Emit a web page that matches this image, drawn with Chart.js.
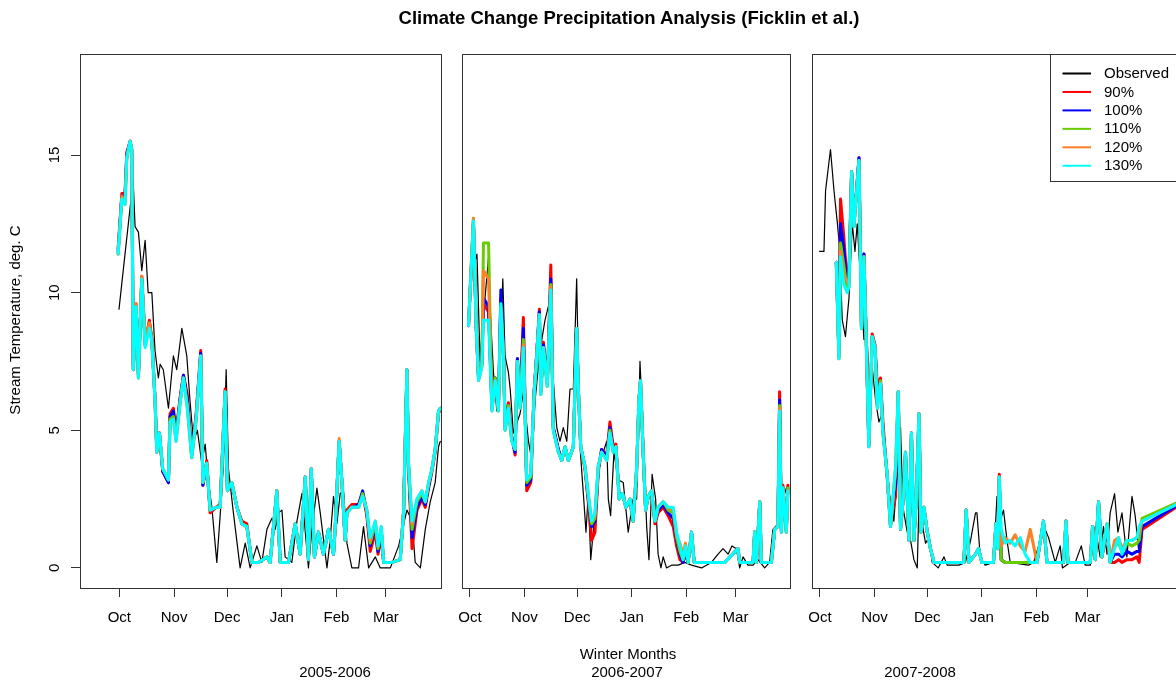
<!DOCTYPE html>
<html lang="en">
<head>
<meta charset="UTF-8">
<title>Climate Change Precipitation Analysis (Ficklin et al.)</title>
<script src="https://cdn.jsdelivr.net/npm/chart.js@4"></script>
<style>
    html, body { margin: 0; padding: 0; background: #fff; }
    body { width: 1176px; height: 681px; overflow: hidden; position: relative;
           font-family: 'Liberation Sans', Arial, sans-serif; color: #000; }
    canvas { position: absolute; top: 0; }
    .lbl { position: absolute; transform: translate(-50%, -50%); white-space: nowrap; font-size: 15px; font-weight: normal; }
    .title { font-weight: bold; font-size: 18.5px; }
</style>
</head>
<body>
<canvas id="p1" width="460" height="681" style="left:0px"></canvas>
<canvas id="p2" width="400" height="681" style="left:420px"></canvas>
<canvas id="p3" width="460" height="681" style="left:770px"></canvas>

<div class="lbl title" style="left:629px;top:18px">Climate Change Precipitation Analysis (Ficklin et al.)</div>
<div class="lbl" style="left:628px;top:653px">Winter Months</div>
<div class="lbl" style="left:335px;top:671px">2005-2006</div>
<div class="lbl" style="left:627px;top:671px">2006-2007</div>
<div class="lbl" style="left:920px;top:671px">2007-2008</div>

<script>
// x values are days since Oct 1 of each winter
const monthNames = ['Oct', 'Nov', 'Dec', 'Jan', 'Feb', 'Mar'];
const monthDays = [0, 31, 61, 92, 123, 151];
const monthDaysLeap = [0, 31, 61, 92, 123, 152];
const seriesNames = ['Observed', '90%', '100%', '110%', '120%', '130%'];
const seriesColors = ['#000000', '#FF0000', '#0000FF', '#66CD00', '#FF7F24', '#00FFFF'];
const yTitle = 'Stream Temperature, deg. C';

// ---- 2005-2006 ----
const p1ObsDays = [-0.2, 7.8, 8.9, 10.8, 12.7, 14.6, 16.3, 18.4, 20.2, 22.1,
    23.1, 24.9, 27.8, 30.6, 32.5, 35.4, 38.2, 40.1, 42.0, 44.2,
    46.7, 48.6, 50.5, 52.4, 55.2, 57.1, 59.0, 60.5, 61.8, 64.6,
    68.4, 71.3, 74.1, 77.9, 80.7, 83.6, 86.4, 88.3, 90.1, 92.1,
    93.9, 97.7, 100.6, 103.4, 107.1, 109.1, 111.9, 113.8, 117.6, 119.4,
    121.3, 123.2, 125.1, 127.0, 128.9, 131.7, 135.5, 138.3, 141.2, 145.0,
    147.8, 153.5, 158.2, 162.9, 165.8, 167.6, 170.5, 173.3, 176.1, 178.9,
    180.8, 181.8];
const p1Obs = [9.4, 14.1, 12.4, 12.2, 10.8, 11.9, 10.0, 10.0, 7.9, 6.9,
    7.4, 7.2, 5.8, 7.7, 7.2, 8.7, 7.7, 6.0, 4.6, 5.0,
    3.8, 4.5, 3.1, 2.2, 0.2, 1.9, 3.8, 7.2, 3.6, 2.0,
    0.0, 0.9, 0.0, 0.8, 0.2, 1.4, 1.8, 1.4, 2.0, 2.1,
    0.4, 0.2, 1.7, 2.7, 0.0, 1.4, 2.9, 2.0, 0.0, 1.0,
    2.6, 1.6, 2.7, 2.8, 0.9, 0.0, 0.0, 1.5, 0.0, 0.4,
    0.0, 0.0, 0.8, 2.1, 1.7, 0.2, 0.0, 1.4, 2.4, 3.1,
    4.4, 4.6];
const p1Days = [-0.7, 1.4, 3.2, 4.2, 6.1, 7.0, 7.9, 9.5, 10.8, 12.7,
    14.6, 17.0, 18.4, 20.2, 21.2, 22.7, 24.6, 27.8, 28.7, 30.6,
    32.1, 34.4, 36.3, 38.5, 41.0, 43.5, 46.1, 47.3, 49.5, 51.4,
    54.8, 57.1, 59.9, 61.2, 63.7, 66.6, 69.4, 72.2, 75.1, 78.8,
    83.6, 85.4, 89.2, 91.1, 95.8, 99.6, 102.4, 105.3, 107.1, 108.7,
    110.5, 112.8, 115.6, 118.5, 121.3, 122.3, 124.5, 126.1, 127.9, 128.9,
    131.7, 135.5, 137.8, 140.2, 142.1, 145.0, 146.5, 148.4, 149.7, 154.4,
    159.1, 161.0, 162.9, 163.8, 165.8, 168.6, 171.4, 173.3, 175.2, 177.1,
    178.9, 180.8, 181.8];
const p1P90 = [11.6, 13.6, 13.6, 15.1, 15.5, 15.2, 7.3, 9.6, 7.0, 10.6,
    8.2, 9.0, 8.3, 6.2, 4.3, 4.9, 3.5, 3.1, 5.6, 5.8,
    4.9, 6.2, 7.0, 6.3, 4.1, 5.6, 7.9, 3.0, 3.9, 2.0,
    2.2, 2.3, 6.5, 2.9, 3.1, 2.2, 1.7, 1.6, 0.2, 0.2,
    0.4, 0.2, 2.8, 0.2, 0.2, 1.6, 0.5, 3.3, 0.3, 3.6,
    0.4, 1.3, 0.5, 1.4, 0.5, 1.5, 4.6, 3.1, 1.0, 2.1,
    2.3, 2.3, 2.7, 1.9, 0.6, 1.3, 0.5, 1.1, 0.2, 0.2,
    0.3, 2.1, 7.2, 3.6, 0.7, 2.1, 2.5, 2.2, 2.9, 3.5,
    4.2, 5.6, 5.8];
const p1P100 = [11.5, 13.5, 13.5, 15.0, 15.5, 15.2, 7.2, 9.5, 7.0, 10.5,
    8.1, 8.9, 8.3, 6.1, 4.2, 4.9, 3.5, 3.1, 5.5, 5.7,
    4.8, 6.1, 7.0, 6.1, 4.1, 5.5, 7.8, 3.0, 3.8, 2.1,
    2.2, 2.2, 6.4, 2.8, 3.1, 2.2, 1.6, 1.5, 0.2, 0.2,
    0.4, 0.2, 2.8, 0.2, 0.2, 1.6, 0.5, 3.3, 0.3, 3.6,
    0.4, 1.3, 0.5, 1.4, 0.5, 1.5, 4.6, 3.1, 1.0, 2.0,
    2.2, 2.3, 2.8, 2.0, 0.8, 1.5, 0.6, 1.3, 0.2, 0.2,
    0.3, 2.0, 7.2, 3.7, 1.1, 2.2, 2.6, 2.3, 3.0, 3.6,
    4.3, 5.7, 5.8];
const p1P110 = [11.4, 13.4, 13.3, 14.9, 15.5, 15.2, 7.2, 9.5, 6.9, 10.5,
    8.1, 8.9, 8.2, 6.1, 4.2, 4.9, 3.6, 3.2, 5.4, 5.5,
    4.7, 6.0, 6.9, 5.9, 4.0, 5.4, 7.7, 3.1, 3.8, 2.1,
    2.2, 2.2, 6.4, 2.8, 3.1, 2.2, 1.6, 1.5, 0.2, 0.2,
    0.4, 0.2, 2.8, 0.2, 0.2, 1.6, 0.5, 3.3, 0.3, 3.6,
    0.4, 1.3, 0.5, 1.4, 0.5, 1.5, 4.6, 3.1, 1.0, 2.0,
    2.2, 2.2, 2.7, 2.1, 0.9, 1.6, 0.7, 1.4, 0.2, 0.2,
    0.3, 2.0, 7.2, 3.8, 1.4, 2.4, 2.7, 2.4, 3.1, 3.6,
    4.3, 5.7, 5.8];
const p1P120 = [11.4, 13.5, 13.2, 14.9, 15.5, 15.2, 7.2, 9.6, 6.9, 10.6,
    8.3, 8.9, 8.3, 6.1, 4.2, 4.9, 3.6, 3.2, 5.3, 5.4,
    4.6, 6.0, 6.9, 5.8, 4.0, 5.4, 7.7, 3.1, 3.8, 2.1,
    2.2, 2.2, 6.4, 2.8, 3.1, 2.2, 1.6, 1.5, 0.2, 0.2,
    0.4, 0.2, 2.8, 0.2, 0.2, 1.6, 0.5, 3.3, 0.3, 3.6,
    0.4, 1.3, 0.5, 1.4, 0.5, 1.5, 4.7, 3.1, 1.0, 2.0,
    2.2, 2.2, 2.6, 2.1, 1.0, 1.7, 0.8, 1.5, 0.2, 0.2,
    0.3, 2.0, 7.2, 3.8, 1.6, 2.5, 2.8, 2.4, 3.1, 3.6,
    4.3, 5.7, 5.8];
const p1P130 = [11.4, 13.4, 13.2, 14.9, 15.5, 15.2, 7.2, 9.5, 6.9, 10.5,
    8.0, 8.7, 8.2, 6.1, 4.2, 4.9, 3.6, 3.2, 5.3, 5.4,
    4.6, 6.0, 6.9, 5.8, 4.0, 5.4, 7.7, 3.1, 3.8, 2.1,
    2.2, 2.2, 6.4, 2.8, 3.1, 2.2, 1.6, 1.5, 0.2, 0.2,
    0.4, 0.2, 2.8, 0.2, 0.2, 1.6, 0.5, 3.3, 0.3, 3.6,
    0.4, 1.3, 0.5, 1.4, 0.5, 1.5, 4.6, 3.1, 1.0, 2.0,
    2.2, 2.2, 2.6, 2.1, 1.1, 1.7, 0.8, 1.5, 0.2, 0.2,
    0.3, 2.0, 7.2, 3.8, 1.7, 2.5, 2.8, 2.4, 3.1, 3.6,
    4.3, 5.7, 5.8];

// ---- 2006-2007 ----
const p2ObsDays = [0.2, 4.0, 5.8, 7.5, 10.6, 11.9, 13.4, 15.3, 16.2, 18.7,
    20.0, 21.9, 22.9, 24.7, 28.5, 30.4, 33.3, 35.2, 37.1, 38.9,
    40.9, 42.7, 44.6, 47.4, 49.4, 51.2, 53.1, 55.1, 56.9, 58.8,
    60.7, 61.6, 62.6, 64.5, 66.0, 67.3, 68.7, 70.1, 72.1, 73.9,
    75.8, 77.8, 78.7, 80.0, 81.9, 84.3, 87.2, 90.0, 92.8, 94.8,
    96.7, 98.5, 100.5, 101.8, 103.6, 105.6, 107.0, 108.6, 109.9, 111.8,
    114.6, 118.4, 122.2, 126.0, 131.7, 137.3, 141.1, 143.9, 146.8, 149.0,
    151.5, 153.4, 155.3, 158.1, 161.0, 163.8, 167.6, 170.4, 172.3, 175.1,
    177.1, 179.0, 180.8];
const p2Obs = [10.5, 11.4, 7.5, 9.0, 11.3, 8.9, 7.1, 5.7, 6.1, 10.5,
    7.7, 7.1, 6.5, 4.9, 5.6, 6.4, 4.6, 3.9, 6.1, 7.3,
    8.3, 9.0, 9.5, 6.8, 5.1, 4.6, 5.1, 4.6, 6.5, 6.5,
    10.5, 7.5, 4.4, 2.7, 1.3, 2.7, 0.3, 1.3, 3.2, 3.9,
    4.2, 4.6, 2.5, 1.9, 4.2, 3.2, 3.1, 1.3, 2.5, 2.5,
    7.5, 4.9, 1.5, 0.3, 3.4, 2.5, 0.5, 0.0, 0.4, 0.0,
    0.1, 0.1, 0.2, 0.1, 0.0, 0.2, 0.5, 0.7, 0.5, 0.8,
    0.7, 0.0, 0.4, 0.1, 0.1, 0.3, 0.0, 0.2, 1.4, 1.6,
    2.8, 2.9, 2.5];
const p2Days = [-0.8, 2.0, 3.6, 4.9, 6.8, 7.7, 10.6, 12.5, 14.4, 16.2,
    17.6, 19.1, 20.0, 21.9, 23.8, 25.7, 27.0, 28.5, 30.4, 32.3,
    34.6, 36.5, 38.0, 39.5, 40.3, 41.8, 44.0, 46.0, 47.4, 50.3,
    52.2, 54.1, 56.0, 58.8, 60.7, 61.6, 63.0, 65.4, 67.3, 69.2,
    71.1, 73.0, 74.9, 77.8, 79.6, 81.5, 83.0, 84.9, 86.8, 88.7,
    91.0, 92.8, 94.8, 96.1, 97.0, 98.5, 99.9, 101.4, 103.3, 105.2,
    107.0, 109.9, 112.7, 115.6, 117.5, 119.4, 121.2, 122.6, 124.1, 126.0,
    127.5, 135.4, 144.9, 152.4, 153.4, 161.0, 161.9, 162.9, 164.8, 165.7,
    171.4, 173.3, 175.1, 176.1, 177.1, 178.0, 179.9, 180.8];
const p2P90 = [8.8, 12.5, 8.7, 6.9, 7.4, 9.6, 9.3, 5.9, 6.9, 5.8,
    9.8, 7.8, 5.2, 6.0, 4.8, 4.1, 7.6, 6.0, 9.1, 2.8,
    3.1, 6.4, 7.8, 9.4, 6.4, 8.2, 6.7, 11.0, 5.1, 4.3,
    3.9, 4.4, 3.9, 4.4, 8.7, 6.6, 4.4, 3.6, 2.4, 1.0,
    1.3, 3.5, 4.3, 4.1, 5.3, 4.4, 4.5, 2.6, 2.7, 2.2,
    2.4, 1.7, 3.5, 6.1, 6.8, 4.2, 2.1, 2.6, 2.7, 1.6,
    2.0, 2.2, 1.9, 1.5, 0.8, 0.3, 0.2, 0.5, 0.2, 1.3,
    0.2, 0.2, 0.2, 0.7, 0.2, 0.2, 1.3, 0.2, 2.4, 0.2,
    0.2, 1.4, 1.5, 6.4, 1.4, 3.0, 1.4, 3.0];
const p2P100 = [8.8, 12.6, 8.7, 6.9, 7.4, 9.8, 9.5, 5.8, 6.9, 5.8,
    10.1, 7.8, 5.1, 5.9, 4.7, 4.2, 7.6, 5.9, 8.7, 3.0,
    3.2, 6.4, 7.8, 9.3, 6.4, 8.1, 6.7, 10.5, 5.1, 4.3,
    3.9, 4.4, 3.9, 4.4, 8.7, 6.6, 4.4, 3.7, 2.5, 1.5,
    1.7, 3.6, 4.3, 4.0, 5.1, 4.3, 4.4, 2.5, 2.7, 2.2,
    2.5, 1.7, 3.6, 6.1, 6.8, 4.2, 2.1, 2.6, 2.8, 1.7,
    2.1, 2.3, 2.0, 1.8, 1.0, 0.5, 0.2, 0.6, 0.2, 1.3,
    0.2, 0.2, 0.2, 0.7, 0.2, 0.2, 1.3, 0.2, 2.4, 0.2,
    0.2, 1.4, 1.5, 6.1, 1.3, 2.9, 1.3, 2.9];
const p2P110 = [8.8, 12.7, 8.8, 6.9, 7.4, 11.8, 11.8, 5.8, 6.9, 5.7,
    9.5, 7.8, 5.0, 5.9, 4.6, 4.3, 7.5, 5.9, 8.3, 3.1,
    3.3, 6.3, 7.7, 9.2, 6.3, 8.0, 6.6, 10.3, 5.0, 4.2,
    3.9, 4.4, 3.9, 4.4, 8.7, 6.6, 4.4, 3.7, 2.6, 1.6,
    1.8, 3.7, 4.2, 3.9, 5.0, 4.2, 4.4, 2.5, 2.7, 2.2,
    2.5, 1.7, 3.6, 6.1, 6.8, 4.2, 2.1, 2.6, 2.8, 1.7,
    2.2, 2.4, 2.1, 2.0, 1.1, 0.6, 0.3, 0.7, 0.2, 1.3,
    0.2, 0.2, 0.2, 0.7, 0.2, 0.2, 1.3, 0.2, 2.4, 0.2,
    0.2, 1.4, 1.5, 5.9, 1.3, 2.9, 1.3, 2.9];
const p2P120 = [8.8, 12.7, 8.7, 6.8, 7.3, 10.8, 10.5, 5.7, 6.8, 5.7,
    9.4, 7.7, 5.0, 5.8, 4.6, 4.3, 7.5, 5.8, 8.1, 3.2,
    3.4, 6.3, 7.7, 9.2, 6.3, 8.0, 6.6, 10.2, 5.0, 4.2,
    3.9, 4.4, 3.9, 4.4, 8.7, 6.6, 4.4, 3.7, 2.7, 1.7,
    1.9, 3.7, 4.2, 3.9, 4.9, 4.2, 4.4, 2.5, 2.7, 2.2,
    2.5, 1.7, 3.6, 6.1, 6.8, 4.2, 2.1, 2.6, 2.8, 1.7,
    2.2, 2.4, 2.2, 2.1, 1.2, 0.9, 0.5, 0.9, 0.3, 1.3,
    0.2, 0.2, 0.2, 0.7, 0.2, 0.2, 1.3, 0.2, 2.4, 0.2,
    0.2, 1.4, 1.5, 5.8, 1.3, 2.9, 1.3, 2.8];
const p2P130 = [8.8, 12.6, 8.7, 6.8, 7.3, 9.0, 9.0, 5.7, 6.8, 5.7,
    9.6, 7.7, 5.0, 5.8, 4.6, 4.3, 7.5, 5.8, 8.0, 3.2,
    3.4, 6.3, 7.7, 9.2, 6.3, 8.0, 6.6, 10.1, 5.0, 4.2,
    3.9, 4.4, 3.9, 4.4, 8.7, 6.6, 4.4, 3.7, 2.7, 1.7,
    2.0, 3.7, 4.2, 3.9, 4.9, 4.2, 4.4, 2.5, 2.7, 2.2,
    2.5, 1.7, 3.6, 6.1, 6.8, 4.2, 2.1, 2.6, 2.8, 1.7,
    2.2, 2.4, 2.2, 2.2, 1.3, 0.8, 0.3, 0.8, 0.2, 1.3,
    0.2, 0.2, 0.2, 0.7, 0.2, 0.2, 1.3, 0.2, 2.4, 0.2,
    0.2, 1.4, 1.5, 5.7, 1.3, 2.9, 1.3, 2.8];

// ---- 2007-2008 ----
const p3ObsDays = [-0.2, 2.3, 3.2, 6.0, 8.0, 9.8, 11.1, 12.7, 14.5, 16.5,
    18.4, 19.9, 21.2, 25.0, 26.9, 27.8, 29.7, 31.6, 33.5, 35.4,
    37.3, 39.5, 42.0, 43.9, 45.8, 47.2, 49.6, 51.5, 53.4, 55.3,
    56.6, 58.1, 60.0, 61.9, 63.8, 67.2, 70.5, 72.3, 79.0, 82.7,
    85.6, 88.4, 89.2, 91.1, 93.9, 98.6, 100.6, 102.4, 104.3, 106.3,
    108.1, 118.5, 121.4, 125.2, 128.0, 129.9, 133.7, 136.5, 137.8, 142.2,
    145.1, 148.5, 150.7, 153.6, 156.4, 159.2, 161.1, 163.1, 164.9, 167.4,
    169.3, 171.6, 174.4, 177.3, 179.1, 181.0];
const p3Obs = [11.5, 11.5, 13.7, 15.2, 13.7, 12.6, 11.7, 9.0, 8.4, 9.8,
    12.5, 11.5, 12.5, 8.3, 8.3, 6.8, 7.3, 6.1, 5.3, 5.6,
    4.2, 2.7, 1.7, 3.4, 5.1, 2.2, 1.3, 1.0, 0.3, 0.0,
    3.2, 1.6, 0.9, 1.1, 0.2, 0.0, 0.4, 0.1, 0.1, 0.2,
    1.0, 2.0, 2.0, 0.4, 0.1, 0.2, 2.6, 1.7, 2.1, 1.0,
    0.2, 0.1, 0.2, 1.0, 1.4, 1.1, 0.2, 0.8, 0.0, 0.2,
    0.2, 0.8, 0.1, 0.1, 1.5, 0.4, 1.5, 0.5, 2.0, 2.7,
    1.3, 2.0, 0.4, 2.6, 1.9, 0.7];
const p3Days = [9.3, 10.8, 11.7, 13.6, 15.5, 16.5, 18.0, 19.3, 22.2, 23.6,
    25.0, 26.3, 27.8, 29.7, 31.3, 32.6, 34.4, 35.8, 38.2, 40.1,
    41.1, 43.0, 44.5, 45.8, 47.7, 48.6, 50.6, 52.0, 53.4, 54.7,
    56.3, 57.4, 59.1, 61.0, 62.8, 64.8, 81.8, 83.1, 84.7, 88.4,
    90.1, 92.0, 98.6, 100.0, 101.1, 101.9, 103.0, 105.3, 108.1, 110.9,
    113.8, 116.6, 119.5, 123.3, 127.0, 129.0, 138.4, 139.8, 140.9, 153.6,
    154.9, 156.4, 158.3, 160.2, 163.1, 164.9, 167.4, 169.7, 171.6, 174.4,
    177.3, 180.1, 181.4, 183.0, 202.4];
const p3P90 = [11.1, 7.8, 13.4, 12.0, 10.3, 10.8, 14.4, 12.5, 14.9, 8.8,
    11.4, 8.4, 4.5, 8.5, 8.1, 6.6, 6.9, 5.3, 3.3, 1.6,
    2.0, 2.6, 6.4, 1.4, 2.8, 4.2, 1.0, 4.9, 1.0, 2.5,
    5.6, 1.3, 2.2, 1.3, 0.7, 0.2, 0.2, 2.1, 0.2, 0.5,
    0.7, 0.2, 0.2, 1.6, 0.7, 3.4, 0.3, 0.2, 0.2, 0.2,
    0.2, 0.2, 0.2, 0.2, 1.7, 0.2, 0.2, 1.7, 0.2, 0.2,
    1.5, 0.3, 2.4, 0.4, 1.4, 0.2, 0.2, 0.3, 0.2, 0.3,
    0.3, 0.4, 0.2, 1.4, 2.2];
const p3P100 = [11.1, 7.7, 12.5, 11.6, 10.2, 10.4, 14.4, 12.4, 14.9, 8.7,
    11.4, 8.3, 4.4, 8.4, 8.0, 6.2, 6.8, 5.0, 3.4, 1.5,
    2.2, 3.0, 6.4, 1.4, 2.8, 4.2, 1.0, 4.9, 1.0, 2.5,
    5.6, 1.3, 2.2, 1.3, 0.7, 0.2, 0.2, 2.1, 0.2, 0.5,
    0.7, 0.2, 0.2, 1.6, 0.7, 3.3, 0.3, 0.2, 0.2, 0.2,
    0.2, 0.2, 0.2, 0.2, 1.7, 0.2, 0.2, 1.7, 0.2, 0.2,
    1.5, 0.3, 2.4, 0.4, 1.5, 0.2, 0.5, 0.5, 0.4, 0.6,
    0.5, 0.6, 0.6, 1.5, 2.25];
const p3P110 = [11.1, 7.6, 11.8, 11.0, 10.1, 10.2, 14.4, 12.4, 14.8, 8.7,
    11.3, 8.3, 4.4, 8.4, 8.0, 6.0, 6.8, 4.9, 3.4, 1.5,
    2.2, 3.5, 6.4, 1.4, 2.8, 4.2, 1.0, 4.9, 1.0, 2.5,
    5.6, 1.3, 2.2, 1.3, 0.7, 0.2, 0.2, 2.1, 0.2, 0.5,
    0.7, 0.2, 0.2, 1.6, 0.7, 3.3, 0.3, 0.2, 0.2, 0.2,
    0.2, 0.2, 0.2, 0.2, 1.7, 0.2, 0.2, 1.7, 0.2, 0.2,
    1.5, 0.3, 2.4, 0.4, 1.6, 0.2, 0.8, 0.9, 0.6, 0.9,
    0.8, 0.9, 1.0, 1.8, 2.35];
const p3P120 = [11.1, 7.6, 11.5, 10.6, 10.4, 10.3, 14.4, 12.4, 14.8, 8.7,
    11.3, 8.3, 4.4, 8.4, 8.0, 5.8, 6.7, 4.9, 3.4, 1.5,
    2.2, 3.7, 6.4, 1.4, 2.8, 4.2, 1.0, 4.9, 1.0, 2.5,
    5.6, 1.3, 2.2, 1.3, 0.7, 0.2, 0.2, 2.1, 0.2, 0.5,
    0.7, 0.2, 0.2, 1.6, 0.7, 3.3, 0.8, 1.1, 0.9, 1.2,
    0.8, 0.6, 1.4, 0.2, 1.7, 0.2, 0.2, 1.7, 0.2, 0.2,
    1.5, 0.3, 2.4, 0.4, 1.6, 0.2, 1.0, 1.1, 0.7, 1.0,
    1.0, 1.1, 1.3, 1.7, 2.3];
const p3P130 = [11.1, 7.6, 11.3, 10.3, 10.0, 10.2, 14.4, 12.4, 14.8, 8.7,
    11.3, 8.3, 4.4, 8.4, 8.0, 5.8, 6.7, 4.9, 3.4, 1.5,
    2.2, 3.7, 6.4, 1.4, 2.8, 4.2, 1.0, 4.9, 1.0, 2.5,
    5.6, 1.3, 2.2, 1.3, 0.7, 0.2, 0.2, 2.1, 0.2, 0.5,
    0.7, 0.2, 0.2, 1.6, 0.7, 3.3, 1.4, 0.9, 1.0, 0.8,
    1.1, 0.5, 0.2, 0.2, 1.7, 0.2, 0.2, 1.7, 0.2, 0.2,
    1.5, 0.3, 2.4, 0.4, 1.6, 0.2, 0.7, 1.1, 0.5, 1.0,
    1.0, 1.1, 1.5, 1.7, 2.3];

const FONT = "'Liberation Sans', Arial, sans-serif";
const INK = '#333333';

// frame around the plot region, like R's box()
const boxPlugin = {
    id: 'box',
    afterDatasetsDraw(chart) {
        const { ctx, chartArea: a } = chart;
        ctx.save();
        ctx.strokeStyle = INK;
        ctx.lineWidth = 1;
        ctx.strokeRect(Math.round(a.left) + 0.5, Math.round(a.top) + 0.5,
            Math.round(a.right - a.left), Math.round(a.bottom - a.top));
        ctx.restore();
    }
};

// rotated y tick labels and axis title (R draws them parallel to the axis)
const yLabelPlugin = {
    id: 'ylabels',
    afterDraw(chart) {
        const { ctx } = chart;
        const y = chart.scales.y;
        const rotText = (txt, x, py) => {
            ctx.save();
            ctx.translate(x, py);
            ctx.rotate(-Math.PI / 2);
            ctx.fillText(txt, 0, 0);
            ctx.restore();
        };
        ctx.save();
        ctx.fillStyle = '#000';
        ctx.font = '15px ' + FONT;
        ctx.textAlign = 'center';
        ctx.textBaseline = 'alphabetic';
        y.ticks.forEach(t => rotText(String(t.value), 58.5, y.getPixelForValue(t.value)));
        rotText(yTitle, 20, 320);
        ctx.restore();
    }
};

// boxed legend in the top right of the last panel
const legendPlugin = {
    id: 'rlegend',
    afterDraw(chart) {
        const { ctx } = chart;
        ctx.save();
        ctx.fillStyle = '#fff';
        ctx.fillRect(280, 54, 220, 128);
        ctx.strokeStyle = INK;
        ctx.lineWidth = 1;
        ctx.strokeRect(280.5, 54.5, 220, 127);
        ctx.font = '15px ' + FONT;
        ctx.textAlign = 'left';
        ctx.textBaseline = 'middle';
        chart.data.datasets.forEach((ds, i) => {
            const ry = 73.5 + i * 18.45;
            ctx.strokeStyle = ds.borderColor;
            ctx.lineWidth = 2;
            ctx.beginPath();
            ctx.moveTo(292.5, ry);
            ctx.lineTo(321, ry);
            ctx.stroke();
            ctx.fillStyle = '#000';
            ctx.fillText(ds.label, 334, ry + 0.5);
        });
        ctx.restore();
    }
};

const makePanel = (id, p) => {
    const datasets = [{
        label: seriesNames[0],
        data: p.obsDays.map((d, i) => ({ x: d, y: p.obs[i] })),
        borderColor: seriesColors[0],
        borderWidth: 1.2,
        order: 6
    }].concat(p.model.map((vals, k) => ({
        label: seriesNames[k + 1],
        data: p.days.map((d, i) => ({ x: d, y: vals[i] })),
        borderColor: seriesColors[k + 1],
        borderWidth: 3,
        order: 5 - k
    })));

    new Chart(document.getElementById(id), {
        type: 'line',
        data: { datasets },
        options: {
            responsive: false,
            animation: false,
            devicePixelRatio: 1,
            events: [],
            layout: { padding: p.padding },
            elements: {
                point: { radius: 0 },
                line: { tension: 0, fill: false, borderJoinStyle: 'round', borderCapStyle: 'round' }
            },
            plugins: { legend: { display: false }, tooltip: { enabled: false } },
            scales: {
                x: {
                    type: 'linear',
                    min: p.xMin,
                    max: p.xMax,
                    afterBuildTicks: s => { s.ticks = p.ticks.map(v => ({ value: v })); },
                    afterFit: s => { s.height = 93; },
                    ticks: {
                        autoSkip: false, maxRotation: 0, padding: 12, color: '#000',
                        font: { family: FONT, size: 15 },
                        callback: (v, i) => monthNames[i]
                    },
                    grid: { drawOnChartArea: false, drawTicks: true, tickLength: 9, color: INK },
                    border: { display: false }
                },
                y: {
                    display: p.showY,
                    min: -0.73,
                    max: 18.67,
                    afterFit: s => { s.width = p.showY ? 80 : 0; },
                    ticks: { stepSize: 5, includeBounds: false, color: 'rgba(0,0,0,0)', font: { family: FONT, size: 15 } },
                    grid: { drawOnChartArea: false, drawTicks: true, tickLength: 9, color: INK },
                    border: { display: false }
                }
            }
        },
        plugins: [boxPlugin].concat(p.extra || [])
    });
};

makePanel('p1', {
    obsDays: p1ObsDays, obs: p1Obs, days: p1Days,
    model: [p1P90, p1P100, p1P110, p1P120, p1P130],
    ticks: monthDays, xMin: -22.3, xMax: 182.2, showY: true,
    padding: { left: 0, top: 54, right: 19, bottom: 0 },
    extra: [yLabelPlugin]
});
makePanel('p2', {
    obsDays: p2ObsDays, obs: p2Obs, days: p2Days,
    model: [p2P90, p2P100, p2P110, p2P120, p2P130],
    ticks: monthDays, xMin: -4.5, xMax: 182.0, showY: false,
    padding: { left: 42, top: 54, right: 30, bottom: 0 }
});
makePanel('p3', {
    obsDays: p3ObsDays, obs: p3Obs, days: p3Days,
    model: [p3P90, p3P100, p3P110, p3P120, p3P130],
    ticks: monthDaysLeap, xMin: -4.5, xMax: 213.1, showY: false,
    padding: { left: 42, top: 54, right: 35, bottom: 0 },
    extra: [legendPlugin]
});
</script>
</body>
</html>
